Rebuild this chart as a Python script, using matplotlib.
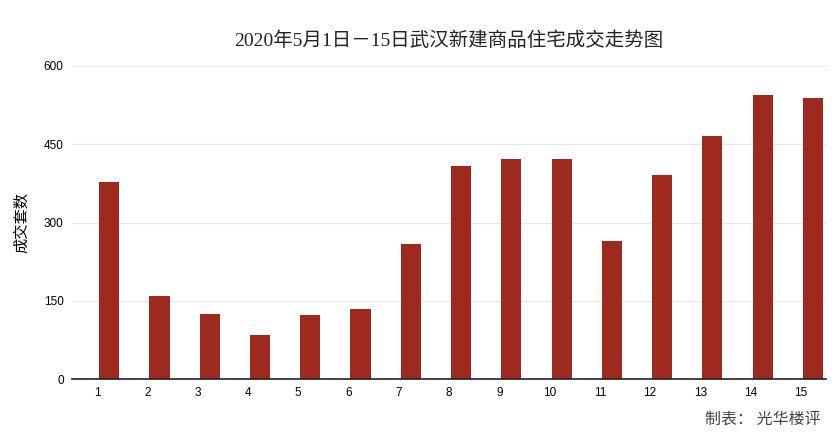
import numpy as np
import matplotlib.pyplot as plt

days = [str(d) for d in range(1, 16)]
sales = [377, 159, 125, 85, 123, 134, 259, 408, 421, 421, 264, 392, 465, 545, 539]
yticks = [0, 150, 300, 450, 600]

title = '2020年5月1日－15日武汉新建商品住宅成交走势图'
ylabel = '成交套数'
source = '制表： 光华楼评'

fig = plt.figure(figsize=(8.39, 4.42), dpi=100)
ax = fig.add_axes([0.0858, 0.1425, 0.8987, 0.7082])

x = np.arange(len(days))
ax.bar(x + 0.24, sales, width=0.4, color='#9e2a1f', zorder=3)

ax.set_xlim(-0.5, len(days) - 0.5)
ax.set_ylim(0, 600)
ax.set_yticks(yticks)
ax.set_xticks(x)
ax.set_xticklabels(days)
ax.tick_params(length=0, labelsize=8.5, pad=6)
for lab in ax.get_xticklabels() + ax.get_yticklabels():
    lab.set_family('Liberation Sans')

ax.grid(axis='y', color='#e6e6e6', lw=0.8, zorder=0)
for s in ['top', 'right', 'left']:
    ax.spines[s].set_visible(False)
ax.spines['bottom'].set_color('#222222')
ax.spines['bottom'].set_linewidth(1.2)
ax.spines['bottom'].set_zorder(4)

ax.set_ylabel(ylabel, family=['Noto Sans CJK SC'], fontsize=11, labelpad=10)

fig.text(0.535, 0.908, title, ha='center', va='center', fontsize=14,
         family=['Liberation Serif', 'Noto Sans CJK SC'], color='#222222')
fig.text(0.978, 0.052, source, ha='right', va='center', fontsize=11.5,
         family=['Noto Sans CJK SC'], color='#444444')

fig.savefig('out.png', dpi=100)
